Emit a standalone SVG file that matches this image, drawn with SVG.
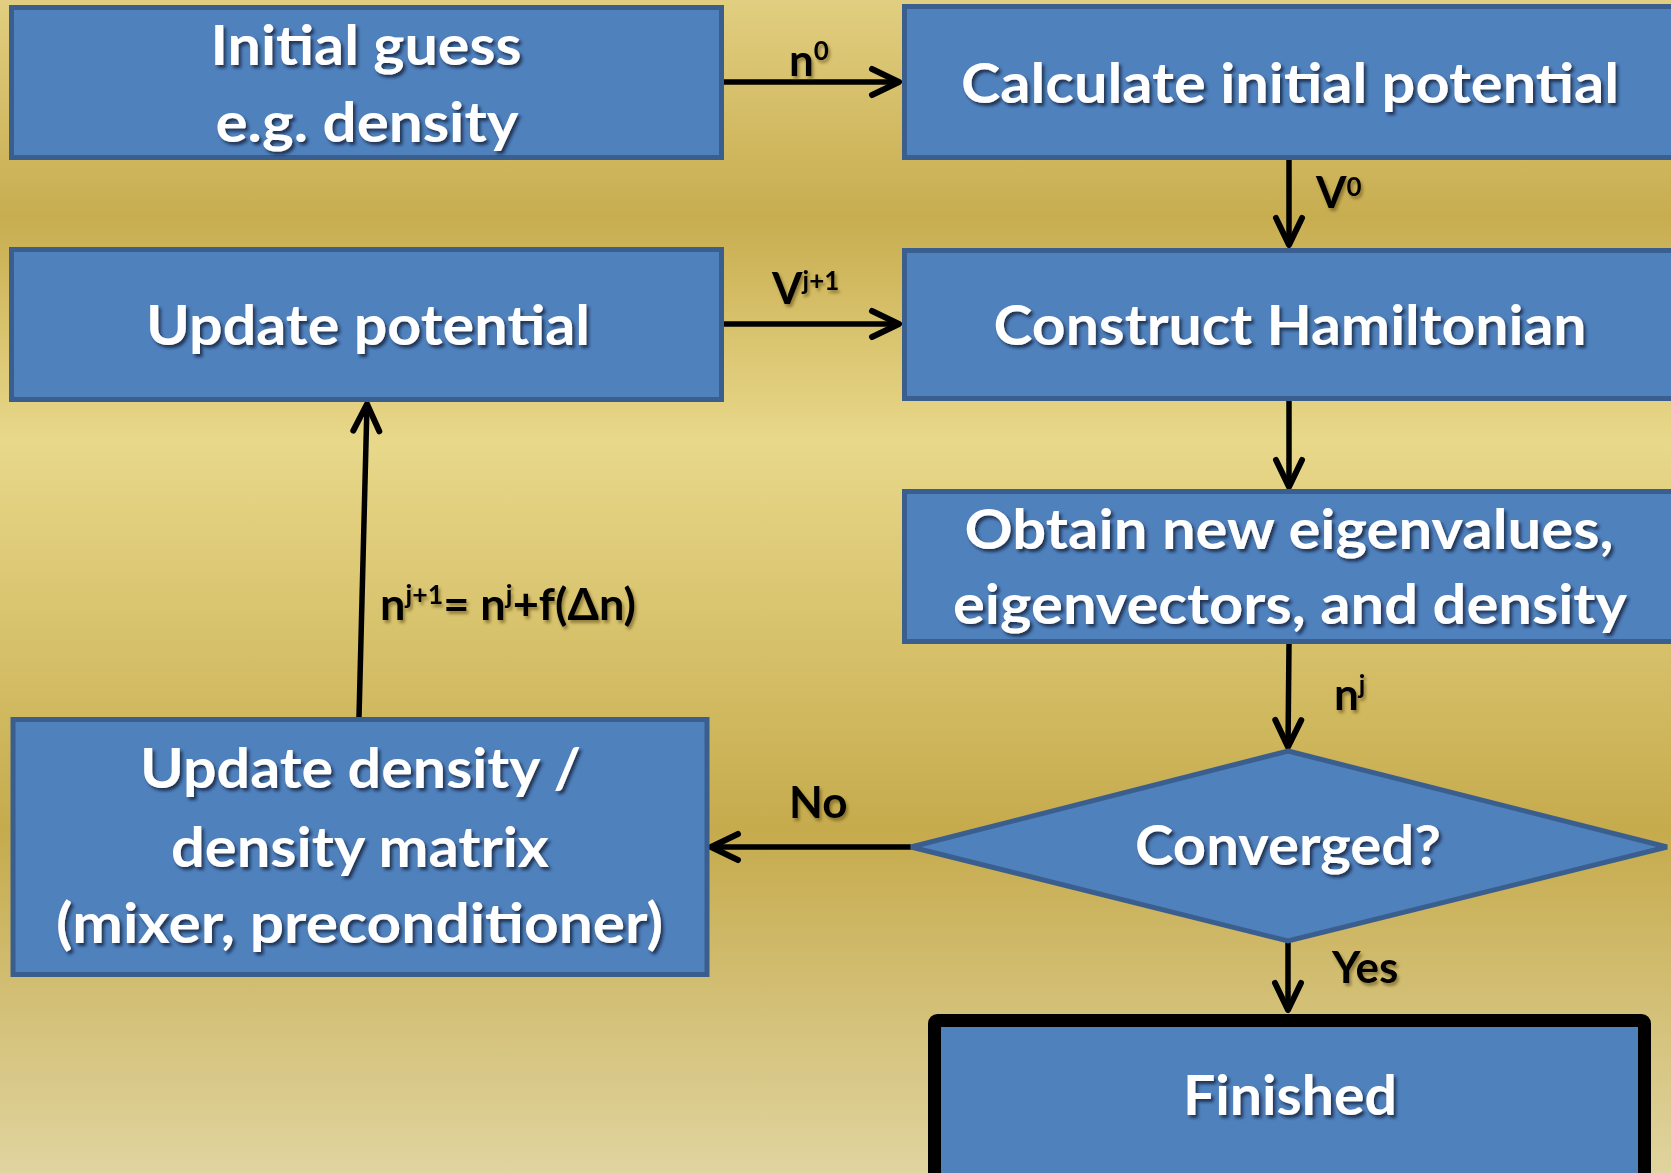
<svg xmlns="http://www.w3.org/2000/svg" width="1671" height="1173" viewBox="0 0 1671 1173">
<defs>
<linearGradient id="bg" x1="0" y1="0" x2="0" y2="1">
<stop offset="0" stop-color="#E1CE80"/>
<stop offset="0.185" stop-color="#C8AD50"/>
<stop offset="0.376" stop-color="#E8D88A"/>
<stop offset="0.708" stop-color="#C6AB4D"/>
<stop offset="1" stop-color="#E0D49F"/>
</linearGradient>
<filter id="ts" x="-10%" y="-30%" width="130%" height="170%">
<feDropShadow dx="2.5" dy="3" stdDeviation="1.6" flood-color="#0A1A30" flood-opacity="0.75"/>
</filter>
<filter id="ls" x="-20%" y="-30%" width="150%" height="170%">
<feDropShadow dx="2" dy="3" stdDeviation="1.6" flood-color="#5A4A10" flood-opacity="0.55"/>
</filter>
<marker id="arr" markerUnits="userSpaceOnUse" markerWidth="40" markerHeight="40" viewBox="-34 -20 40 40" refX="0" refY="0" orient="auto">
<path d="M-27,-13 L0,0 L-27,13" fill="none" stroke="#000" stroke-width="6" stroke-linecap="round" stroke-linejoin="round"/>
</marker>
<style>
.box{fill:#4F81BD;stroke:#3A5F8E;stroke-width:5;}
.fin{fill:#4F81BD;stroke:#000;stroke-width:13;}
.t{font-family:Lato,'Open Sans','Liberation Sans',sans-serif;font-weight:bold;font-size:56px;fill:#fff;text-anchor:middle;filter:url(#ts);}
.l{font-family:Lato,'Open Sans','Liberation Sans',sans-serif;font-weight:bold;font-size:44px;fill:#000;filter:url(#ls);}
.s{font-size:26px;}
.c{fill:none;stroke:#000;stroke-width:5.5;marker-end:url(#arr);}
</style>
</defs>
<rect x="0" y="0" width="1671" height="1173" fill="url(#bg)"/>

<g id="connectors">
<line class="c" x1="724" y1="82" x2="899" y2="82"/>
<line class="c" x1="1289" y1="160" x2="1289" y2="245"/>
<line class="c" x1="724" y1="324" x2="899" y2="324"/>
<line class="c" x1="1289" y1="401" x2="1289" y2="487"/>
<line class="c" x1="1289" y1="644" x2="1288" y2="747"/>
<line class="c" x1="1288" y1="941" x2="1288" y2="1010"/>
<line class="c" x1="911" y1="847" x2="711" y2="847"/>
<line class="c" x1="359" y1="717" x2="367" y2="404"/>
<text class="l" x="789" y="76">n<tspan class="s" dy="-16">0</tspan></text>
<text class="l" x="1316" y="208">V<tspan class="s" dy="-12">0</tspan></text>
<text class="l" x="772" y="304">V<tspan class="s" dy="-14">j+1</tspan></text>
<text class="l" x="1334" y="710">n<tspan class="s" dy="-16">j</tspan></text>
<text class="l" x="380" y="620" textLength="256" lengthAdjust="spacingAndGlyphs">n<tspan class="s" dy="-16">j+1</tspan><tspan dy="16">= n</tspan><tspan class="s" dy="-16">j</tspan><tspan dy="16">+f(Δn)</tspan></text>
<text class="l" x="789" y="818">No</text>
<text class="l" x="1332" y="983">Yes</text>
</g>

<g id="node-initial">
<rect class="box" x="11.5" y="7.5" width="710" height="150"/>
<text class="t" x="366" y="65" textLength="311" lengthAdjust="spacingAndGlyphs">Initial guess</text>
<text class="t" x="367" y="142" textLength="303" lengthAdjust="spacingAndGlyphs">e.g. density</text>
</g>

<g id="node-calc">
<rect class="box" x="904.5" y="6.5" width="800" height="151"/>
<text class="t" x="1290" y="103" textLength="658" lengthAdjust="spacingAndGlyphs">Calculate initial potential</text>
</g>

<g id="node-update-potential">
<rect class="box" x="11.5" y="249.5" width="710" height="150"/>
<text class="t" x="368" y="345" textLength="444" lengthAdjust="spacingAndGlyphs">Update potential</text>
</g>

<g id="node-hamiltonian">
<rect class="box" x="904.5" y="250.5" width="800" height="148"/>
<text class="t" x="1290" y="345" textLength="593" lengthAdjust="spacingAndGlyphs">Construct Hamiltonian</text>
</g>

<g id="node-obtain">
<rect class="box" x="904.5" y="491.5" width="800" height="150"/>
<text class="t" x="1289" y="549" textLength="649" lengthAdjust="spacingAndGlyphs">Obtain new eigenvalues,</text>
<text class="t" x="1290" y="624" textLength="674" lengthAdjust="spacingAndGlyphs">eigenvectors, and density</text>
</g>

<g id="node-converged">
<polygon class="box" points="1288,751 1667,847 1288,941 911,847"/>
<text class="t" x="1288" y="865" textLength="306" lengthAdjust="spacingAndGlyphs">Converged?</text>
</g>

<g id="node-update-density">
<rect class="box" x="13" y="719.5" width="694" height="255"/>
<text class="t" x="360.5" y="788" textLength="441" lengthAdjust="spacingAndGlyphs">Update density /</text>
<text class="t" x="360" y="867" textLength="378" lengthAdjust="spacingAndGlyphs">density matrix</text>
<text class="t" x="359.5" y="943" textLength="607" lengthAdjust="spacingAndGlyphs">(mixer, preconditioner)</text>
</g>

<g id="node-finished">
<rect class="fin" x="934.5" y="1020.5" width="710" height="160" rx="3"/>
<text class="t" x="1290" y="1115" textLength="214" lengthAdjust="spacingAndGlyphs">Finished</text>
</g>
</svg>
